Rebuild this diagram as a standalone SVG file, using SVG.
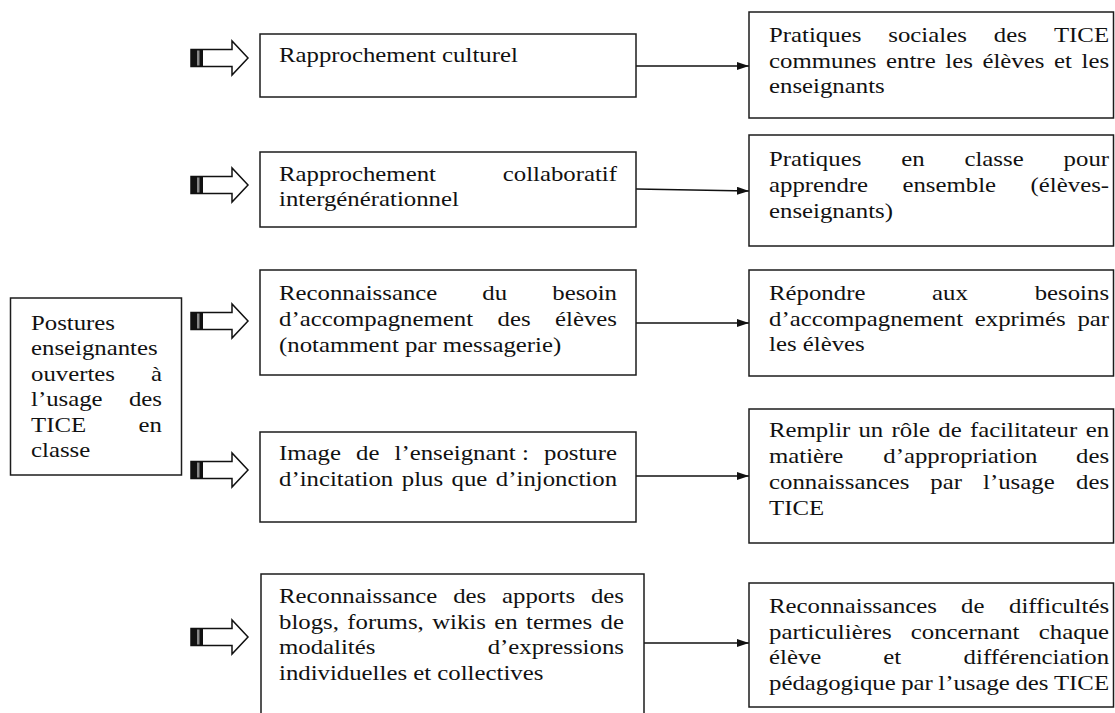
<svg xmlns="http://www.w3.org/2000/svg" width="1115" height="713" viewBox="0 0 1115 713">
<defs>
<style>
.b{fill:#fff;stroke:#1c1c1c;stroke-width:1.5}
.t{font-family:"Liberation Serif","Times New Roman",serif;font-size:20px;fill:#111}
.e{text-anchor:end}
.c{stroke:#111;stroke-width:1.5;fill:none;marker-end:url(#ah)}
.ha{fill:#fff;stroke:#111;stroke-width:1.5}
.hb{fill:#111}
.hs{fill:#888}
</style>
<marker id="ah" viewBox="0 0 12 8" refX="12" refY="4" markerWidth="12" markerHeight="8" markerUnits="userSpaceOnUse" orient="auto">
<path d="M0,0 L12,4 L0,8 Z" fill="#111"/>
</marker>
<g id="hollow">
<path class="ha" d="M191,-8.5 H232 V-17 L248,0 L232,17 V8.5 H191 Z"/>
<rect class="hb" x="191" y="-8.5" width="12" height="17"/>
<rect class="hs" x="197" y="-7.5" width="2.5" height="15"/>
</g>
</defs>
<rect width="1115" height="713" fill="#fff"/>

<g id="arrows-in">
<use href="#hollow" y="58"/>
<use href="#hollow" y="185"/>
<use href="#hollow" y="321"/>
<use href="#hollow" y="470"/>
<use href="#hollow" y="637"/>
</g>

<g id="connectors">
<line class="c" x1="636" y1="66" x2="749" y2="66"/>
<line class="c" x1="636" y1="189" x2="749" y2="191"/>
<line class="c" x1="636" y1="323" x2="749" y2="323"/>
<line class="c" x1="636" y1="476" x2="749" y2="476"/>
<line class="c" x1="644" y1="643" x2="749" y2="643"/>
</g>

<g id="n-root">
<rect class="b" x="10.5" y="298" width="171" height="177"/>
<g class="t" transform="scale(1.24 1)">
<text x="25" y="330">Postures</text>
<text x="25" y="355.5">enseignantes</text>
<text x="25" y="381">ouvertes</text><text class="e" x="130.6" y="381">à</text>
<text x="25" y="406.5">l’usage</text><text class="e" x="130.6" y="406.5">des</text>
<text x="25" y="432">TICE</text><text class="e" x="130.6" y="432">en</text>
<text x="25" y="457">classe</text>
</g>
</g>

<g id="n-m1">
<rect class="b" x="260" y="34" width="376" height="63"/>
<g class="t" transform="scale(1.24 1)">
<text x="225" y="62">Rapprochement culturel</text>
</g>
</g>

<g id="n-m2">
<rect class="b" x="260" y="152" width="376" height="75"/>
<g class="t" transform="scale(1.24 1)">
<text x="225" y="181">Rapprochement</text><text class="e" x="497.6" y="181">collaboratif</text>
<text x="225" y="206">intergénérationnel</text>
</g>
</g>

<g id="n-m3">
<rect class="b" x="260" y="270" width="376" height="105"/>
<g class="t" transform="scale(1.24 1)">
<text x="225" y="300">Reconnaissance</text><text x="389" y="300">du</text><text class="e" x="497.6" y="300">besoin</text>
<text x="225" y="326">d’accompagnement</text><text x="401.3" y="326">des</text><text class="e" x="497.6" y="326">élèves</text>
<text x="225" y="352">(notamment par messagerie)</text>
</g>
</g>

<g id="n-m4">
<rect class="b" x="260" y="432" width="376" height="90"/>
<g class="t" transform="scale(1.24 1)">
<text x="225" y="460">Image</text><text x="287.2" y="460">de</text><text x="318.2" y="460">l’enseignant :</text><text class="e" x="497.6" y="460">posture</text>
<text x="225" y="486">d’incitation</text><text x="324" y="486">plus</text><text x="364.1" y="486">que</text><text class="e" x="497.6" y="486">d’injonction</text>
</g>
</g>

<g id="n-m5">
<path class="b" d="M261,714 V574 H644 V714"/>
<g class="t" transform="scale(1.24 1)">
<text x="225" y="603">Reconnaissance</text><text x="365.5" y="603">des</text><text x="404.9" y="603">apports</text><text class="e" x="503.2" y="603">des</text>
<text x="225" y="629">blogs,</text><text x="280.1" y="629">forums,</text><text x="348.5" y="629">wikis</text><text x="398.6" y="629">en</text><text x="424.3" y="629">termes</text><text class="e" x="503.2" y="629">de</text>
<text x="225" y="654.5">modalités</text><text class="e" x="503.2" y="654.5">d’expressions</text>
<text x="225" y="680">individuelles et collectives</text>
</g>
</g>

<g id="n-r1">
<rect class="b" x="749" y="12" width="364.5" height="106"/>
<g class="t" transform="scale(1.24 1)">
<text x="620.2" y="42.5">Pratiques</text><text x="716.4" y="42.5">sociales</text><text x="801.5" y="42.5">des</text><text class="e" x="894.4" y="42.5">TICE</text>
<text x="620.2" y="68">communes</text><text x="714.6" y="68">entre</text><text x="762.3" y="68">les</text><text x="792.3" y="68">élèves</text><text x="850.1" y="68">et</text><text class="e" x="894.4" y="68">les</text>
<text x="620.2" y="93.5">enseignants</text>
</g>
</g>

<g id="n-r2">
<rect class="b" x="749" y="135" width="364.5" height="111"/>
<g class="t" transform="scale(1.24 1)">
<text x="620.2" y="166.5">Pratiques</text><text x="726.8" y="166.5">en</text><text x="777.8" y="166.5">classe</text><text class="e" x="894.4" y="166.5">pour</text>
<text x="620.2" y="192.5">apprendre</text><text x="727.8" y="192.5">ensemble</text><text class="e" x="894.4" y="192.5">(élèves-</text>
<text x="620.2" y="218">enseignants)</text>
</g>
</g>

<g id="n-r3">
<rect class="b" x="749" y="270" width="364.5" height="106"/>
<g class="t" transform="scale(1.24 1)">
<text x="620.2" y="300">Répondre</text><text x="751.7" y="300">aux</text><text class="e" x="894.4" y="300">besoins</text>
<text x="620.2" y="326">d’accompagnement</text><text x="786.1" y="326">exprimés</text><text class="e" x="894.4" y="326">par</text>
<text x="620.2" y="351.5">les élèves</text>
</g>
</g>

<g id="n-r4">
<rect class="b" x="749" y="409" width="364.5" height="134"/>
<g class="t" transform="scale(1.24 1)">
<text x="620.2" y="437.5">Remplir</text><text x="692.3" y="437.5">un</text><text x="719" y="437.5">rôle</text><text x="756.7" y="437.5">de</text><text x="782.2" y="437.5">facilitateur</text><text class="e" x="894.4" y="437.5">en</text>
<text x="620.2" y="463.5">matière</text><text x="712.3" y="463.5">d’appropriation</text><text class="e" x="894.4" y="463.5">des</text>
<text x="620.2" y="489.5">connaissances</text><text x="750.2" y="489.5">par</text><text x="792.8" y="489.5">l’usage</text><text class="e" x="894.4" y="489.5">des</text>
<text x="620.2" y="515">TICE</text>
</g>
</g>

<g id="n-r5">
<rect class="b" x="749" y="583" width="364.5" height="124"/>
<g class="t" transform="scale(1.24 1)">
<text x="620.2" y="613">Reconnaissances</text><text x="775" y="613">de</text><text class="e" x="894.4" y="613">difficultés</text>
<text x="620.2" y="639">particulières</text><text x="734.5" y="639">concernant</text><text class="e" x="894.4" y="639">chaque</text>
<text x="620.2" y="664.5">élève</text><text x="712.3" y="664.5">et</text><text class="e" x="894.4" y="664.5">différenciation</text>
<text x="620.2" y="690">pédagogique</text><text x="726.8" y="690">par</text><text x="756.7" y="690">l’usage</text><text x="818.9" y="690">des</text><text class="e" x="894.4" y="690">TICE</text>
</g>
</g>
</svg>
